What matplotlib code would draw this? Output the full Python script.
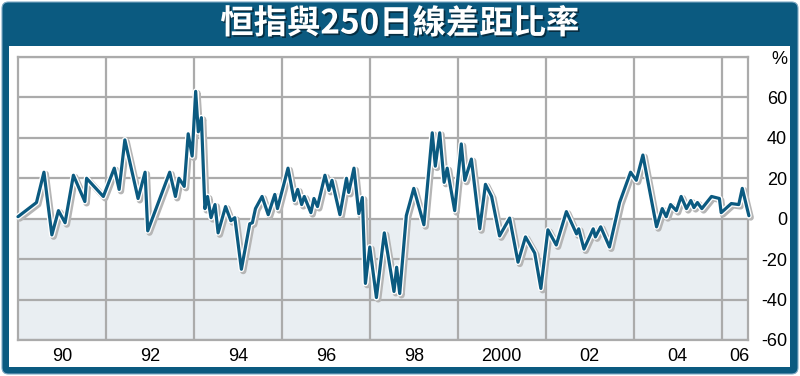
import matplotlib
matplotlib.use("Agg")
import matplotlib.pyplot as plt
import matplotlib.patheffects as pe
from matplotlib.patches import FancyBboxPatch, Rectangle

plt.rcParams['font.family'] = ['Liberation Sans', 'DejaVu Sans']

# data (year, % gap between HSI and its 250-day MA)
years = [1989.00, 1989.42, 1989.59, 1989.77, 1989.92, 1990.07, 1990.26, 1990.52, 1990.56, 1990.94,
         1991.19, 1991.30, 1991.43, 1991.73, 1991.89, 1991.95, 1992.45, 1992.58, 1992.66, 1992.78,
         1992.87, 1992.96, 1993.04, 1993.10, 1993.17, 1993.25, 1993.31, 1993.39, 1993.48, 1993.55,
         1993.72, 1993.84, 1993.93, 1994.08, 1994.27, 1994.33, 1994.40, 1994.55, 1994.69, 1994.84,
         1994.90, 1995.14, 1995.28, 1995.36, 1995.45, 1995.51, 1995.66, 1995.73, 1995.81, 1995.98,
         1996.07, 1996.14, 1996.32, 1996.47, 1996.52, 1996.64, 1996.75, 1996.83, 1996.90, 1997.00,
         1997.15, 1997.33, 1997.55, 1997.61, 1997.68, 1997.83, 1998.00, 1998.23, 1998.42, 1998.49,
         1998.59, 1998.69, 1998.76, 1998.93, 1999.08, 1999.16, 1999.31, 1999.50, 1999.63, 1999.77,
         1999.95, 2000.18, 2000.37, 2000.54, 2000.75, 2000.89, 2001.05, 2001.24, 2001.47, 2001.70,
         2001.75, 2001.87, 2002.08, 2002.13, 2002.25, 2002.45, 2002.68, 2002.93, 2003.06, 2003.21,
         2003.52, 2003.65, 2003.74, 2003.84, 2003.97, 2004.08, 2004.20, 2004.30, 2004.37, 2004.45,
         2004.55, 2004.77, 2004.95, 2004.99, 2005.22, 2005.39, 2005.47, 2005.62]
gap = [1, 8, 23, -8, 4, -2, 21.5, 8.5, 20, 11,
       25, 14.5, 39, 10, 23, -6, 23, 11, 20, 16,
       42, 31, 63, 43, 50, 5, 11, 0.5, 7, -7,
       6, -1, 0.5, -25, -2.5, -2, 5, 11, 2, 12,
       5, 25, 9, 14.5, 7, 11, 3, 10, 6, 21.5,
       14, 19, 2, 20, 13, 25, 2.5, 10.5, -32, -14,
       -39, -7, -36, -24, -37, 1.5, 15, -3, 42.5, 26,
       42.5, 18, 25, 4, 37, 19, 29.5, -5, 17, 11,
       -8.5, 0.3, -21.5, -9, -17, -34.5, -5.5, -13, 3.5, -7.5,
       -5, -15, -5, -9, -4, -14, 8, 23, 19, 31.5,
       -4, 5, 1, 7, 4, 11, 5, 9, 5.5, 8,
       5, 11, 10, 3, 7.5, 7, 15, 1.5]

xtick_pos = [1990, 1992, 1994, 1996, 1998, 2000, 2002, 2004, 2005.4]
xtick_labels = ['90', '92', '94', '96', '98', '2000', '02', '04', '06']
grid_years = [1991, 1993, 1995, 1997, 1999, 2001, 2003, 2005]
ytick_pos = [-60, -40, -20, 0, 20, 40, 60, 80]
ytick_labels = ['-60', '-40', '-20', '0', '20', '40', '60', '%']

title = '恒指與250日線差距比率'

BLUE = '#0b5a80'
GRID = '#ababab'
W, H = 800, 376

fig = plt.figure(figsize=(W / 100, H / 100), dpi=100)
fig.patch.set_facecolor('white')


def fx(x):
    return x / W


def fy(y):
    return 1 - y / H


# outer blue frame with title bar, white panel inside
frame = FancyBboxPatch((fx(2), fy(374)), fx(796), 372 / H,
                       boxstyle='round,pad=0,rounding_size=0.008', mutation_aspect=W / H,
                       transform=fig.transFigure, facecolor=BLUE, edgecolor='#7fa9c4',
                       linewidth=0.8, zorder=-3)
fig.add_artist(frame)
inner = Rectangle((fx(9), fy(367)), fx(781), 321 / H, transform=fig.transFigure,
                  facecolor='white', edgecolor='none', zorder=-2)
fig.add_artist(inner)

fig.text(0.5, fy(24), title, family=['Noto Sans CJK TC', 'DejaVu Sans'], weight='heavy',
         fontsize=24, color='white', ha='center', va='center',
         path_effects=[pe.withSimplePatchShadow(offset=(1.2, -1.2), shadow_rgbFace='#06283a', alpha=0.9)])

ax = fig.add_axes([fx(18), fy(340), fx(730), (340 - 57) / H])
ax.set_facecolor('white')
ax.set_xlim(1989.0, 2005.6)
ax.set_ylim(-60, 80)

ax.axhspan(-60, 0, color='#e9eef2', zorder=0, linewidth=0)

ax.set_xticks(xtick_pos)
ax.set_xticklabels(xtick_labels, fontsize=13)
ax.set_xticks(grid_years, minor=True)
ax.grid(True, which='minor', axis='x', color=GRID, linewidth=1.6, zorder=1)

ax.yaxis.tick_right()
ax.set_yticks(ytick_pos)
ax.set_yticklabels(ytick_labels, fontsize=13, ha='right')
ax.grid(True, which='major', axis='y', color=GRID, linewidth=1.6, zorder=1)
ax.set_axisbelow(True)

ax.tick_params(axis='both', which='both', length=0)
ax.tick_params(axis='x', pad=6)
ax.tick_params(axis='y', pad=28)

for s in ax.spines.values():
    s.set_color(GRID)
    s.set_linewidth(1.6)

ax.plot(years, gap, color=BLUE, linewidth=2.3, solid_joinstyle='round', solid_capstyle='round',
        zorder=3, clip_on=False,
        path_effects=[pe.SimpleLineShadow(offset=(1.3, -1.3), shadow_color='#b5b5b5', alpha=1,
                                          linewidth=4.6, joinstyle='round'),
                      pe.Stroke(linewidth=4.2, foreground='white', joinstyle='round'),
                      pe.Normal()])

fig.savefig('out.png', dpi=100)
